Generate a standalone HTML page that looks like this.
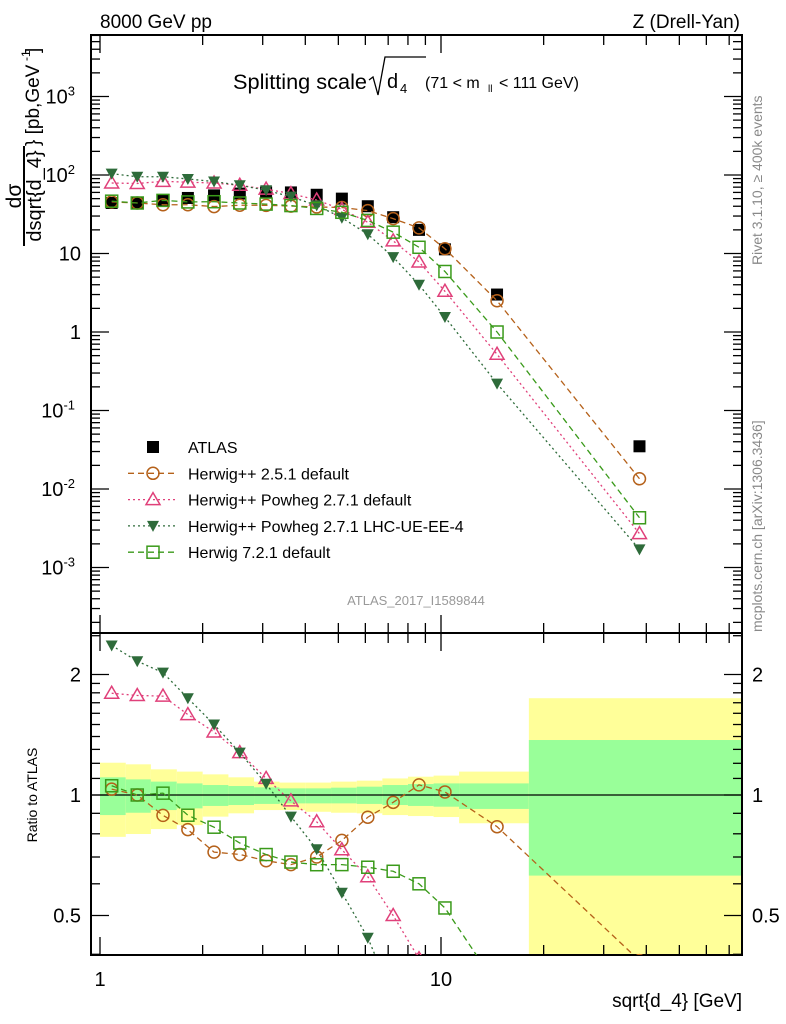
<!DOCTYPE html>
<html><head><meta charset="utf-8"><style>
body{margin:0;background:#fff;overflow:hidden;}
svg{display:block;font-family:"Liberation Sans",sans-serif;}
</style></head><body>
<svg id="c" width="786" height="1024" viewBox="0 0 786 1024" xmlns="http://www.w3.org/2000/svg">
<text x="100" y="28" font-size="19">8000 GeV pp</text>
<text x="740" y="28" font-size="19" text-anchor="end">Z (Drell-Yan)</text>
<g>
<text x="233" y="89" font-size="21" textLength="134" lengthAdjust="spacingAndGlyphs">Splitting scale</text>
<path d="M369,80 L373,77 L378,95 L385,57 L426,57" fill="none" stroke="#000" stroke-width="1.3"/>
<text x="387" y="88" font-size="20">d</text><text x="400" y="93" font-size="13">4</text>
<text x="425" y="88" font-size="16">(71 &lt; m</text><text x="488" y="92" font-size="10">ll</text><text x="499" y="88" font-size="16">&lt; 111 GeV)</text>
</g>
<g transform="translate(24,196) rotate(-90)">
<text x="0" y="-3" font-size="21" text-anchor="middle">dσ</text>
<line x1="-50" y1="0" x2="50" y2="0" stroke="#000" stroke-width="2"/>
<text x="0" y="17" font-size="20" text-anchor="middle">dsqrt{d_4}</text>
<text x="50" y="15" font-size="19">} [pb,GeV</text><text x="135" y="6" font-size="12">-1</text><text x="143" y="15" font-size="19">]</text>
</g>
<text transform="translate(762,265) rotate(-90)" font-size="14" fill="#888">Rivet 3.1.10, ≥ 400k events</text>
<text transform="translate(762,632) rotate(-90)" font-size="14" fill="#888">mcplots.cern.ch [arXiv:1306.3436]</text>
<text x="416" y="605" font-size="13" fill="#999" text-anchor="middle">ATLAS_2017_I1589844</text>
<text transform="translate(37,795) rotate(-90)" font-size="14" text-anchor="middle">Ratio to ATLAS</text>
<text x="742" y="1007" font-size="19" text-anchor="end">sqrt{d_4} [GeV]</text>
<g id="g"></g>
</svg>
<script>
const xVals=[1.082,1.286,1.53,1.81,2.16,2.57,3.07,3.63,4.32,5.12,6.10,7.24,8.62,10.27,14.6,38.2];
const binEdges=[1.0,1.19,1.41,1.68,2.0,2.38,2.83,3.36,4.0,4.76,5.66,6.73,8.0,9.51,11.3,18.1,80];
const atlas=[44,44,47,51,55,58,60,60,56,50,40,29,20,11.3,3.0,0.035];
const herwig251=[45.5,44,41.8,41.8,39.6,41.2,41.1,40.2,39.2,38.5,35.2,27.8,21.2,11.5,2.5,0.0135];
const powhegDef=[79,78,83,81,79,74,66,58,48,36.5,25,14.5,7.8,3.3,0.52,0.0027];
const powhegUE=[104,95,95,89,82.5,74,64,53,41,28.5,17.6,9.0,4.0,1.55,0.22,0.0017];
const herwig721=[46.4,44,47.5,45.4,45.7,44,42.6,40.8,37.5,33.5,26.4,18.7,12,5.9,1.0,0.0043];
const yellowUp=[1.204,1.193,1.159,1.144,1.126,1.107,1.080,1.074,1.074,1.080,1.086,1.100,1.111,1.118,1.144,1.745];
const yellowDn=[0.786,0.799,0.822,0.841,0.883,0.900,0.917,0.917,0.908,0.903,0.900,0.891,0.886,0.881,0.850,0.30];
const greenUp=[1.107,1.094,1.080,1.069,1.059,1.053,1.045,1.039,1.039,1.043,1.049,1.059,1.065,1.069,1.069,1.372];
const greenDn=[0.891,0.903,0.917,0.926,0.939,0.944,0.950,0.953,0.953,0.953,0.950,0.944,0.939,0.935,0.923,0.629];
const mainTicks=["10^-3","10^-2","10^-1","1","10","10^2","10^3"];
const ratioTicks=[0.5,1,2];

const NS="http://www.w3.org/2000/svg";
const G=document.getElementById('g');
function mk(t,a,p){const e=document.createElementNS(NS,t);for(const k in a)e.setAttribute(k,a[k]);(p||G).appendChild(e);return e;}
const L=91,R=742,T=35,M=633,B=955;
const X=v=>100+341*Math.log10(v);
const Y=v=>332-78.5*Math.log10(v);
const YR=v=>795-120.5*Math.log2(v);
const clipR=mk('clipPath',{id:'cr'});mk('rect',{x:L,y:M,width:R-L,height:B-M},clipR);
const clipM=mk('clipPath',{id:'cm'});mk('rect',{x:L,y:T,width:R-L,height:M-T},clipM);
const bands=mk('g',{'clip-path':'url(#cr)'});


for(let i=0;i<xVals.length;i++){
  const x0=Math.max(L,X(binEdges[i])),x1=Math.min(R,X(binEdges[i+1]));
  const y=mk('rect',{x:x0,y:YR(yellowUp[i]),width:x1-x0,height:YR(yellowDn[i])-YR(yellowUp[i]),fill:'#ffff99'},bands);
  
  
  const g=mk('rect',{x:x0,y:YR(greenUp[i]),width:x1-x0,height:YR(greenDn[i])-YR(greenUp[i]),fill:'#99ff99'},bands);
  
  
}
mk('line',{x1:L,x2:R,y1:YR(1),y2:YR(1),stroke:'#000','stroke-width':1.3});
for(const [y0,y1] of [[T,M],[M,B]]) mk('rect',{x:L,y:y0,width:R-L,height:y1-y0,fill:'none',stroke:'#000','stroke-width':2});
const xt=[];for(let d=1;d<=10;d*=10)for(let k=1;k<10;k++)xt.push(d*k);
for(const v of xt){const x=X(v);if(x<L||x>R)continue;const big=(v===1||v===10)?1:0;const len=big?18:10;
 for(const [y0,dir] of [[T,1],[M,-1],[M,1],[B,-1]]) mk('line',{x1:x,x2:x,y1:y0,y2:y0+dir*len,stroke:'#000','stroke-width':1.3});}
for(const v of [1,10]){const t=mk('text',{x:X(v),y:986,'font-size':20,'text-anchor':'middle'});t.textContent=v;
 
 }
for(let e=-4;e<=3;e++)for(let k=1;k<10;k++){const v=k*Math.pow(10,e);const y=Y(v);if(y<T||y>M)continue;const len=k===1?18:9;
 mk('line',{x1:L,x2:L+len,y1:y,y2:y,stroke:'#000','stroke-width':1.3});mk('line',{x1:R,x2:R-len,y1:y,y2:y,stroke:'#000','stroke-width':1.3});}
mainTicks.forEach((s,i)=>{const e=i-3;const y=Y(Math.pow(10,e));const t=mk('text',{x:81,y:y+7,'font-size':20,'text-anchor':'end'});
 
 
 if(e===0)t.textContent='1';else if(e===1)t.textContent='10';else{t.textContent='10';const s2=mk('tspan',{dy:-8,'font-size':13},t);s2.textContent=String(e);t.setAttribute('x',75);t.setAttribute('text-anchor','end');}
});
for(const v of [0.4,0.5,0.6,0.7,0.8,0.9,1,1.1,1.2,1.3,1.4,1.5,1.6,1.7,1.8,1.9,2,2.5]){const y=YR(v);if(y<M||y>B)continue;const big=ratioTicks.includes(v);const len=big?18:9;
 mk('line',{x1:L,x2:L+len,y1:y,y2:y,stroke:'#000','stroke-width':1.3});mk('line',{x1:R,x2:R-len,y1:y,y2:y,stroke:'#000','stroke-width':1.3});}
for(const v of ratioTicks){for(const [x,a] of [[81,'end'],[752,'start']]){const t=mk('text',{x:x,y:YR(v)+7,'font-size':20,'text-anchor':a});t.textContent=v;
 
 }}
function marker(p,type,c,x,y){
 if(type==='sq')mk('rect',{x:x-6,y:y-6,width:12,height:12,fill:'#000'},p);
 else if(type==='circ')mk('circle',{cx:x,cy:y,r:6,fill:'none',stroke:c,'stroke-width':1.5},p);
 else if(type==='tri')mk('path',{d:`M${x},${y-7}L${x+7},${y+5}L${x-7},${y+5}Z`,fill:'none',stroke:c,'stroke-width':1.5},p);
 else if(type==='tdn')mk('path',{d:`M${x-6},${y-5}L${x+6},${y-5}L${x},${y+6}Z`,fill:c},p);
 else if(type==='box')mk('rect',{x:x-6,y:y-6,width:12,height:12,fill:'none',stroke:c,'stroke-width':1.5},p);
}
const series=[
 {name:'herwig-2-5-1',vals:herwig251,c:'#b5611a',m:'circ',dash:'6,4'},
 {name:'powheg-default',vals:powhegDef,c:'#e0407a',m:'tri',dash:'2,3'},
 {name:'powheg-lhc-ue-ee-4',vals:powhegUE,c:'#2e6b3a',m:'tdn',dash:'2,3'},
 {name:'herwig-7-2-1',vals:herwig721,c:'#3a9a1a',m:'box',dash:'6,4'}];
const ag=mk('g',{'clip-path':'url(#cm)'});


atlas.forEach((v,i)=>marker(ag,'sq','#000',X(xVals[i]),Y(v)));
for(const s of series){
 const g=mk('g',{'clip-path':'url(#cm)'});
 
 
 mk('polyline',{points:s.vals.map((v,i)=>X(xVals[i])+','+Y(v)).join(' '),fill:'none',stroke:s.c,'stroke-width':1.3,'stroke-dasharray':s.dash},g);
 s.vals.forEach((v,i)=>marker(g,s.m,s.c,X(xVals[i]),Y(v)));
 const r=mk('g',{'clip-path':'url(#cr)'});
 
 
 mk('polyline',{points:s.vals.map((v,i)=>X(xVals[i])+','+YR(v/atlas[i])).join(' '),fill:'none',stroke:s.c,'stroke-width':1.3,'stroke-dasharray':s.dash},r);
 s.vals.forEach((v,i)=>marker(r,s.m,s.c,X(xVals[i]),YR(v/atlas[i])));
}
const lg=mk('g',{});


const labels=['ATLAS','Herwig++ 2.5.1 default','Herwig++ Powheg 2.7.1 default','Herwig++ Powheg 2.7.1 LHC-UE-EE-4','Herwig 7.2.1 default'];
labels.forEach((s,i)=>{const y=447+i*26.3;const e=mk('g',{},lg);
 
 
 if(i===0)marker(e,'sq','#000',153,y);else{const sr=series[i-1];mk('line',{x1:128,x2:177,y1:y,y2:y,stroke:sr.c,'stroke-width':1.3,'stroke-dasharray':sr.dash},e);marker(e,sr.m,sr.c,153,y);}
 const t=mk('text',{x:188,y:y+6,'font-size':16},e);t.textContent=s;});
</script>
</body></html>
